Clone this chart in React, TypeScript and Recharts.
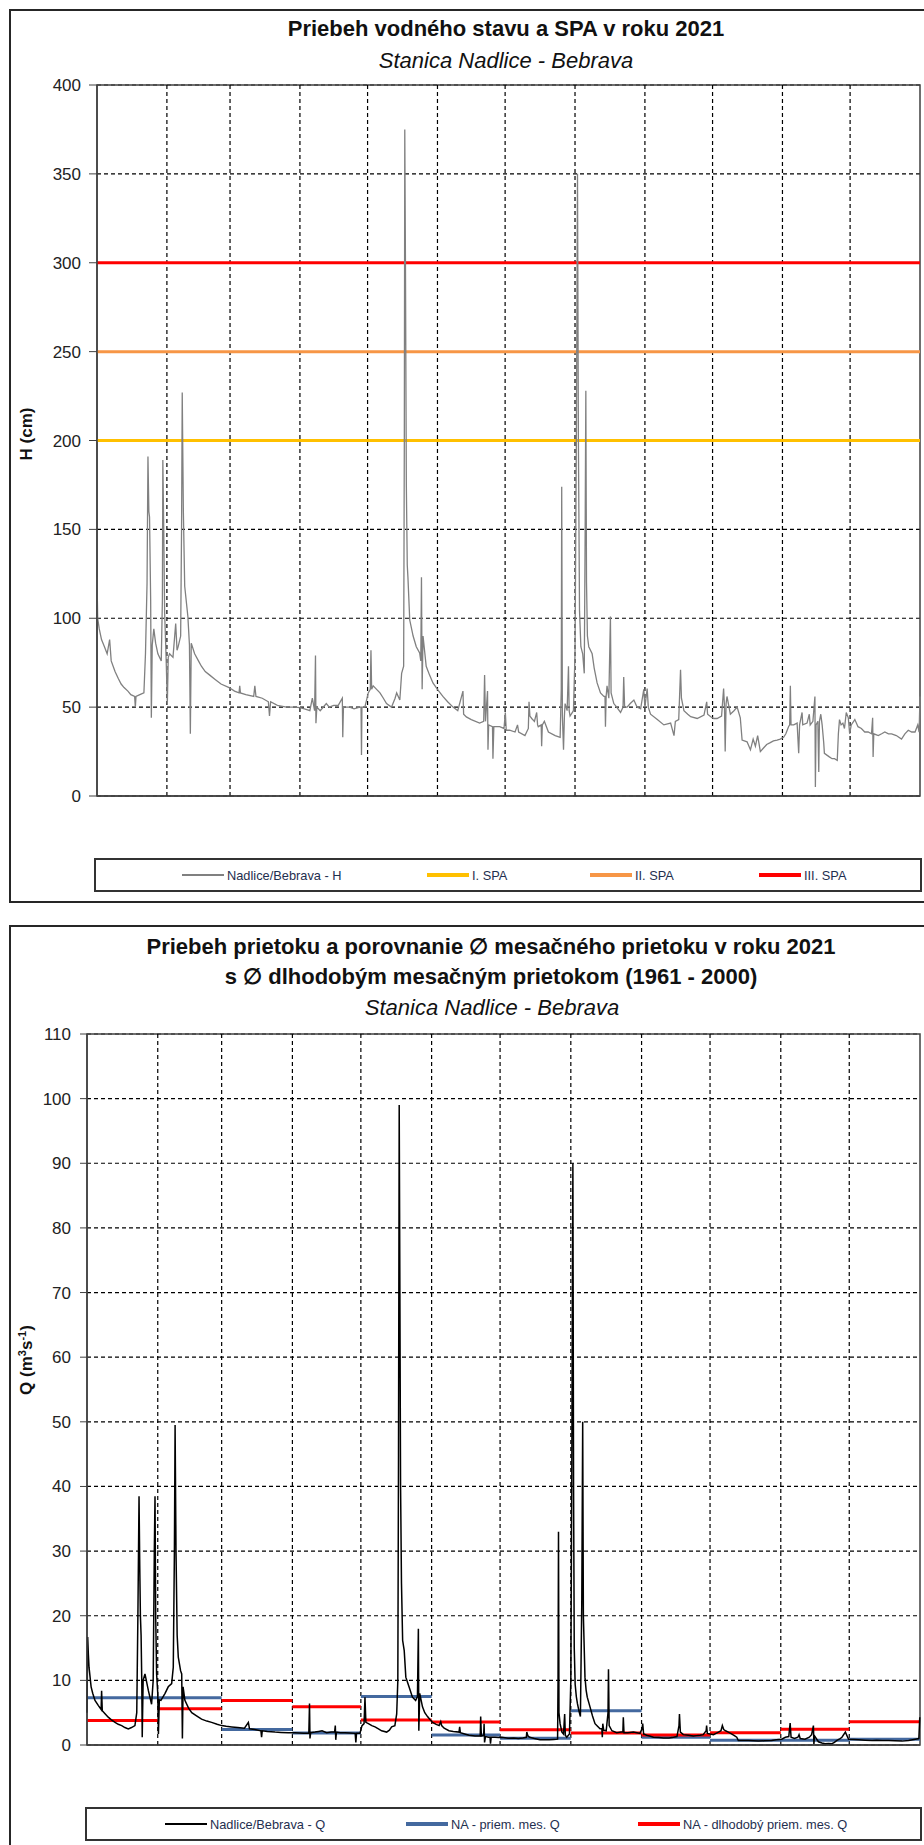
import React from 'react';
import { LineChart, Line, XAxis, YAxis, CartesianGrid, ReferenceArea, ReferenceLine } from 'recharts';

// day-of-year where each month starts (last entry = end of year)
const monthStarts = [0, 31, 59, 90, 120, 151, 181, 212, 243, 273, 304, 334, 365];
const monthBounds = monthStarts.slice(1, -1);

const hTicks = [0, 50, 100, 150, 200, 250, 300, 350, 400];
const qTicks = [0, 10, 20, 30, 40, 50, 60, 70, 80, 90, 100, 110];

// water level H (cm), [day, value]
const hJanMar = [
  [0, 123], [0.3, 100], [1, 94], [2, 88], [3.3, 84], [4.5, 80], [5.6, 88], [6.3, 76], [8, 70], [9.5, 66],
  [10.7, 63], [12, 61], [13.7, 59], [15, 57], [16.7, 56], [17, 50], [17.3, 56], [19, 57], [20.8, 58], [21.5, 80],
  [22.2, 120], [22.6, 191], [23, 160], [23.3, 157], [23.8, 110], [24.1, 44], [24.5, 85], [25.2, 94], [26, 86], [27, 80],
  [28.5, 76], [29, 110], [29.2, 189], [29.6, 150], [30, 103], [30.6, 80], [31.2, 52], [31.6, 78], [32.2, 80], [33.7, 78],
  [34.9, 97], [35.5, 82], [36, 84], [37.1, 90], [37.5, 150], [37.8, 227], [38.3, 160], [38.9, 118], [40.3, 101], [41, 85],
  [41.4, 35], [41.8, 86], [43.3, 80], [45, 76], [46.3, 73], [48, 70], [50, 68], [52.4, 65.6], [55, 63], [58.6, 61],
  [61, 59], [63, 58], [63.3, 62], [63.6, 58], [66, 57], [69.5, 56], [70, 62], [70.5, 56], [73.3, 55], [76, 53],
  [76.5, 45], [77, 53], [80, 51], [84, 50], [87.7, 50],
];
const hAprJun = [
  [90, 49.7], [92, 49], [94.4, 48], [95.5, 55], [96.5, 48], [96.9, 79], [97.1, 41], [97.5, 50], [99, 48], [101.7, 52],
  [103, 50], [105, 51], [107, 51], [108.8, 55], [109, 33], [109.3, 50], [112.1, 50], [114, 49], [116.5, 50], [117.1, 50],
  [117.3, 23], [117.5, 50], [118.8, 50], [120.3, 58], [121.2, 60], [121.5, 82], [121.8, 60], [122.5, 62], [124, 60], [125.5, 58],
  [127, 55], [128.4, 52], [130.6, 50], [132.2, 55], [132.9, 58], [134.3, 54], [135.1, 69], [136, 73], [136.3, 200], [136.5, 375],
  [136.8, 300], [137.2, 174], [137.6, 130], [137.9, 123], [138.7, 99], [140.2, 90], [141.6, 84], [143.1, 80.5], [143.6, 76], [143.9, 123],
  [144.2, 60], [144.6, 90], [146, 73], [147.5, 68], [149, 63.6], [151, 60], [153.4, 56], [155.5, 53], [157.9, 50], [160, 48],
  [162.3, 59], [162.6, 46], [163.8, 44.5], [166, 43], [169.7, 41], [171.5, 42], [171.9, 68], [172.3, 42], [173.2, 59], [173.4, 26],
  [173.7, 40], [175.4, 39], [175.6, 21], [176, 39], [178.6, 39], [180.5, 38], [181.1, 47], [181.5, 37],
];
const hJulSep = [
  [183, 37], [185.4, 36], [186.5, 40], [187, 36], [189.8, 34], [191.3, 38], [191.6, 53], [192, 45], [192.8, 43.6], [194, 42],
  [195, 47], [195.4, 40], [195.7, 39], [197, 40], [197.2, 28], [197.5, 40], [198.4, 42], [200.2, 36], [203.2, 34], [205.4, 33],
  [205.9, 60], [206.1, 174], [206.4, 45], [206.9, 26], [207.3, 45], [207.6, 52], [208.5, 48], [209.1, 73], [209.4, 48], [209.8, 45],
  [211.3, 48], [212, 80], [212.6, 200], [213.1, 350], [213.5, 200], [214, 104], [214.6, 84], [215.4, 80], [216.1, 69], [216.5, 150],
  [216.8, 228], [217.1, 120], [217.5, 90], [218.1, 84], [219.6, 80], [220.5, 72], [221.8, 63.6], [223.3, 58], [224.8, 56], [225.3, 56],
  [225.5, 39], [225.8, 56], [226.2, 62], [227, 55], [227.7, 101], [228, 58], [229.2, 52], [230.5, 50], [232.2, 47], [233.3, 50],
  [233.6, 67], [234, 50], [235.1, 50], [236.5, 52], [238.1, 54], [239.5, 50], [241.1, 49], [242.5, 60], [243, 50], [244, 60.5],
  [244.5, 50], [245.5, 46], [248.5, 43], [251.4, 40], [254.4, 41], [255.9, 34], [256.5, 42], [258, 43], [258.8, 71], [259.2, 55],
  [260.3, 48], [262, 46], [263.3, 44.6], [266.2, 43.6], [269.2, 45.5], [270.4, 53], [270.8, 46], [272.2, 44.6],
];
const hOctDec = [
  [273.5, 43.6], [275, 43.6], [277, 45], [277.9, 60.5], [278.3, 50], [278.6, 25], [279, 52], [279.4, 56], [280.9, 46], [282.5, 48],
  [283.9, 50], [285.3, 44], [286.1, 31.5], [288.3, 30.5], [289.8, 26], [291, 32], [292, 28], [293, 34], [294.2, 25], [295.6, 27],
  [297, 29], [298.6, 30], [300, 31], [301.6, 31.5], [303, 32], [304.5, 33], [305.5, 35], [306.7, 39], [307.2, 40], [307.5, 62],
  [307.8, 40], [309, 40], [310.5, 41], [311.2, 24], [311.6, 40], [312.7, 47], [313, 40], [314.9, 41], [315.9, 46], [316.3, 40],
  [317.5, 42], [318.4, 56], [318.6, 5], [318.9, 40], [319.7, 42], [320.1, 13.5], [320.4, 42], [321, 46], [321.6, 40], [322.3, 30],
  [322.6, 24], [324.8, 22], [326, 21], [327.1, 21], [328.3, 20], [328.8, 35], [329.3, 43], [330, 40], [330.8, 41], [331.5, 38],
  [332.3, 47], [333.2, 44], [333.8, 35], [334.5, 40], [336.1, 43], [337.5, 39], [339, 38], [340.5, 36], [342, 36], [343.5, 35],
  [344, 44], [344.2, 22], [344.5, 35], [346.5, 34], [348, 35], [349.4, 36], [351, 35], [352.4, 35], [354.5, 34], [356.8, 32],
  [358.3, 35], [359.8, 37], [361.3, 36], [362.8, 36], [364, 40], [364.6, 36], [365, 56],
];

// flood activity levels (SPA)
const spaNames = ['I. SPA', 'II. SPA', 'III. SPA'];
const spaLevels = [200, 250, 300];
const spaColors = ['#FFC000', '#F79646', '#FF0000'];

// discharge Q (m3/s), [day, value]
const qJanMar = [
  [0, 5], [0.3, 16.7], [0.6, 14], [0.9, 12], [1.8, 9], [2.5, 8], [3.5, 6.9], [5, 6.1], [6.2, 5.5], [6.4, 8.4],
  [6.7, 5.3], [8, 4.8], [9.3, 4.3], [10.7, 3.9], [12.3, 3.5], [13.7, 3.2], [15.2, 3.0], [16.6, 2.7], [18.1, 2.5], [19.5, 2.7],
  [21, 3.0], [21.8, 5], [22.3, 20], [22.8, 38.5], [23.1, 28], [23.4, 20], [23.7, 17], [24, 10], [24.2, 1.2], [24.6, 10],
  [25.4, 11], [26.9, 8.4], [28.3, 6.3], [29, 10], [29.5, 30], [29.8, 38.5], [30.1, 20], [30.5, 11], [31, 8], [31.3, 1.7],
  [31.7, 7], [32.4, 6.9], [34.2, 8], [35.6, 9], [37.1, 9.5], [37.8, 12], [38.3, 30], [38.6, 49.5], [39, 30], [39.5, 17],
  [40, 13.6], [41, 11.5], [41.5, 11], [41.8, 1], [42.1, 9], [42.9, 6.9], [44.5, 5.7], [45.9, 5], [48, 4.5], [50.2, 4.0],
  [52.5, 3.7], [54.6, 3.5], [57, 3.2], [59, 3.0], [61, 2.9], [63.4, 2.8], [66, 2.7], [69, 2.6], [70.7, 3.5], [71.2, 2.5],
  [73.5, 2.4], [76.2, 2.2], [76.5, 1.2], [76.8, 2.2], [79, 2.1], [82.4, 2.0], [85, 1.95], [88.2, 1.9],
];
const qAprJun = [
  [91.1, 1.9], [93, 1.85], [95, 1.8], [97.2, 1.8], [97.5, 6.4], [97.7, 1.0], [98, 1.9], [99.9, 2.0], [101.5, 2.1], [103, 2.2],
  [105, 1.9], [107, 2.0], [108.5, 2.0], [108.8, 3.0], [109, 0.8], [109.3, 2.0], [111, 1.9], [113, 1.9], [115, 1.85], [117.5, 1.8],
  [117.8, 0.4], [118.1, 1.8], [119.6, 1.8], [120.5, 3.0], [121.4, 3.3], [121.8, 7.4], [122.2, 3.5], [123.3, 3.3], [124.8, 3.0], [126.2, 2.8],
  [127.7, 2.5], [129.1, 2.2], [131.3, 2.0], [132.5, 2.3], [133.5, 2.8], [134.9, 3.0], [135.7, 4.8], [136.2, 10], [136.5, 45], [136.8, 99],
  [137.1, 70], [137.4, 40], [137.8, 25], [138.3, 16.2], [139, 14.6], [139.7, 10.5], [141.1, 9], [142.6, 7.4], [144, 6.9], [144.8, 7.5],
  [145.2, 18], [145.4, 2.2], [145.8, 8], [147, 5.9], [148, 5], [149.2, 4.4], [151.4, 3.5], [153, 3.2], [154.3, 3.0], [155, 3.6],
  [155.4, 3.0], [156.5, 2.6], [158.6, 2.2], [160.5, 2.1], [163, 2.0], [163.3, 2.8], [163.6, 1.9], [165.5, 1.7], [167.4, 1.5], [170, 1.4],
  [172.3, 1.4], [172.5, 4.4], [172.8, 1.4], [173.8, 1.5], [174, 3.3], [174.2, 0.4], [174.6, 1.3], [175.9, 1.2], [176.6, 1.2], [176.8, 0.2],
  [177.1, 1.2], [178.8, 1.2], [180.3, 1.15],
];
const qJulSep = [
  [181.7, 1.2], [184.6, 1.05], [187, 1.1], [189, 1.0], [191, 1.1], [192.5, 1.2], [192.7, 2.0], [193.2, 1.4], [194, 1.2], [196, 1.0],
  [198.5, 0.8], [200.5, 0.8], [202.5, 0.8], [204.5, 0.85], [206.2, 0.9], [206.4, 10], [206.6, 33], [206.8, 5], [207.3, 3.3], [208.1, 2.0],
  [208.8, 1.7], [209.3, 4.8], [209.6, 1.5], [210.2, 1.2], [211.4, 1.7], [212, 10], [212.4, 40], [212.9, 90], [213.2, 40], [213.5, 15],
  [213.9, 9.4], [214.4, 7.5], [214.9, 6.4], [215.6, 5.2], [216.2, 4.4], [216.8, 22], [217.2, 50], [217.5, 20], [218.2, 10.5], [218.7, 8.5],
  [219.2, 7.4], [220.4, 5.9], [221.5, 4.5], [222.6, 3.3], [223.7, 2.9], [224.8, 2.5], [225.6, 2.5], [225.8, 1.2], [226, 3.3], [226.4, 2.3],
  [227.5, 2.2], [228.3, 5], [228.5, 11.7], [228.8, 3], [230, 2.2], [232.1, 1.9], [234, 2.0], [234.8, 2.0], [235, 4.3], [235.3, 1.9],
  [237, 1.9], [239.4, 2.0], [241, 1.9], [242.3, 1.8], [243.2, 2.5], [243.5, 3.3], [243.9, 1.7], [245.2, 1.5], [246.5, 1.4], [248.2, 1.2],
  [250.5, 1.15], [252.6, 1.1], [255, 1.1], [257, 1.2], [258.5, 1.3], [259.4, 3], [259.6, 4.8], [260, 2], [261.3, 1.6], [263.5, 1.5],
  [265.7, 1.4], [267, 1.45], [268.6, 1.5], [270, 1.6], [271.3, 2.2], [271.5, 3.0], [271.8, 1.8], [273, 1.7],
];
const qOctDec = [
  [274.5, 1.6], [276.7, 2.0], [277.8, 2.2], [278.4, 3.0], [279, 2.4], [279.8, 2.2], [281, 2.0], [282, 1.8], [283.5, 1.5], [284.7, 1.2],
  [285.4, 0.7], [287.5, 0.7], [289.8, 0.7], [292, 0.65], [294.2, 0.6], [297, 0.65], [300, 0.7], [302, 0.8], [304.4, 0.9], [306, 1.2],
  [307.5, 1.3], [308.1, 3.4], [308.5, 1.2], [310, 1.0], [311.5, 1.2], [312, 1.6], [312.5, 1.0], [314.6, 0.9], [316.5, 1.2], [317.5, 1.6],
  [318.3, 3.0], [318.5, 0.1], [318.8, 1.4], [320.5, 0.5], [322, 0.3], [323.4, 0.2], [325, 0.25], [326.4, 0.2], [327.5, 0.4], [328.6, 0.7],
  [330, 1.0], [330.8, 1.2], [332.3, 2.0], [333.7, 0.9], [336, 0.85], [338.1, 0.8], [341, 0.75], [344, 0.7], [346, 0.75], [348.5, 0.7],
  [351.3, 0.7], [354, 0.65], [357.1, 0.6], [360, 0.7], [363, 0.9], [364.5, 1.0], [364.9, 4.3],
];

// monthly mean discharge, Jan..Dec
const qMonthly2021 = [7.3, 7.3, 2.4, 1.85, 7.5, 1.55, 1.05, 5.3, 1.2, 0.75, 0.75, 0.9];
const qMonthlyLongTerm = [3.8, 5.6, 6.9, 5.9, 3.85, 3.55, 2.35, 1.85, 1.55, 1.9, 2.45, 3.6];

const FONT = '"Liberation Sans", Arial, sans-serif';
const AXIS = '#404040';

const toRows = (pairs: number[][]) => pairs.map(([d, v]) => ({ d, v }));
const hData = toRows([...hJanMar, ...hAprJun, ...hJulSep, ...hOctDec]);
const qData = toRows([...qJanMar, ...qAprJun, ...qJulSep, ...qOctDec]);
const flatLine = (v: number) => [{ d: 0, v }, { d: 365, v }];
const monthlySteps = (vals: number[]) =>
  vals.flatMap((v, i) => [
    { d: monthStarts[i], v },
    { d: monthStarts[i + 1], v },
    { d: monthStarts[i + 1], v: null },
  ]);

function CenterText({ x, y, size, bold, italic, children }: any) {
  return (
    <div
      style={{
        position: 'absolute', left: x, top: y, transform: 'translate(-50%, -50%)',
        fontSize: size, fontWeight: bold ? 700 : 400, fontStyle: italic ? 'italic' : 'normal',
        whiteSpace: 'nowrap', lineHeight: 1, color: '#111',
      }}
    >
      {children}
    </div>
  );
}

function AxisTitle({ x, y, children }: any) {
  return (
    <div
      style={{
        position: 'absolute', left: x, top: y, transform: 'translate(-50%, -50%) rotate(-90deg)',
        fontSize: 17, fontWeight: 700, whiteSpace: 'nowrap', lineHeight: 1, color: '#111',
      }}
    >
      {children}
    </div>
  );
}

function LegendBox({ left, top, width, items }: any) {
  return (
    <div
      style={{
        position: 'absolute', left, top, width, height: 34, boxSizing: 'border-box',
        border: '2px solid #333', background: '#fff',
      }}
    >
      {items.map((it: any) => (
        <div
          key={it.name}
          style={{ position: 'absolute', left: it.x - left, top: 0, height: 30, display: 'flex', alignItems: 'center' }}
        >
          <div style={{ width: 42, height: it.w, background: it.color }} />
          <span style={{ marginLeft: 3, fontSize: 12.8, color: '#1f2f4f' }}>{it.name}</span>
        </div>
      ))}
    </div>
  );
}

const frame = {
  position: 'absolute' as const, left: 9, width: 917, boxSizing: 'border-box' as const,
  border: '2px solid #262626', background: '#fff',
};

const yTick = { fill: '#222', fontSize: 17, fontFamily: FONT };
const gridDash = '4 3';

export default function App() {
  return (
    <div style={{ position: 'absolute', left: 0, top: 0, width: 924, height: 1845, overflow: 'hidden', fontFamily: FONT, background: '#fff' }}>
      {/* water level chart */}
      <div style={{ ...frame, top: 9, height: 894 }} />
      <CenterText x={506} y={29} size={22} bold>Priebeh vodného stavu a SPA v roku 2021</CenterText>
      <CenterText x={506} y={61} size={22} italic>Stanica Nadlice - Bebrava</CenterText>
      <AxisTitle x={26} y={434}>H (cm)</AxisTitle>
      <div style={{ position: 'absolute', left: 9, top: 75 }}>
        <LineChart width={915} height={733} margin={{ top: 10, right: 4, bottom: 10, left: 28 }}>
          <CartesianGrid stroke="#000" strokeWidth={1.2} strokeDasharray={gridDash} vertical={false} />
          <XAxis
            type="number" dataKey="d" domain={[0, 365]} ticks={monthBounds} tick={false} tickLine={false}
            height={2} axisLine={{ stroke: AXIS, strokeWidth: 1.5 }}
          />
          <YAxis
            type="number" domain={[0, 400]} ticks={hTicks} interval={0} width={60} tickSize={8} tickMargin={8}
            tick={yTick} tickLine={{ stroke: AXIS }} axisLine={{ stroke: AXIS, strokeWidth: 1.5 }}
          />
          {monthBounds.map((b) => (
            <ReferenceLine key={b} x={b} stroke="#000" strokeWidth={1.2} strokeDasharray={gridDash} />
          ))}
          <ReferenceArea x1={0} x2={365} y1={0} y2={400} fill="none" stroke={AXIS} strokeWidth={1.5} />
          {spaLevels.map((lv, i) => (
            <Line
              key={spaNames[i]} data={flatLine(lv)} dataKey="v" name={spaNames[i]} stroke={spaColors[i]}
              strokeWidth={3} dot={false} isAnimationActive={false}
            />
          ))}
          <Line
            data={hData} dataKey="v" name="Nadlice/Bebrava - H" type="linear" stroke="#808080"
            strokeWidth={1.3} dot={false} isAnimationActive={false}
          />
        </LineChart>
      </div>
      <LegendBox
        left={94} top={858} width={828}
        items={[
          { name: 'Nadlice/Bebrava - H', color: '#808080', w: 1.5, x: 180 },
          { name: spaNames[0], color: spaColors[0], w: 4, x: 425 },
          { name: spaNames[1], color: spaColors[1], w: 4, x: 588 },
          { name: spaNames[2], color: spaColors[2], w: 4, x: 757 },
        ]}
      />

      {/* discharge chart */}
      <div style={{ ...frame, top: 925, height: 930 }} />
      <CenterText x={491} y={947} size={22} bold>Priebeh prietoku a porovnanie ∅ mesačného prietoku v roku 2021</CenterText>
      <CenterText x={491} y={977} size={22} bold>s ∅ dlhodobým mesačným prietokom (1961 - 2000)</CenterText>
      <CenterText x={492} y={1008} size={22} italic>Stanica Nadlice - Bebrava</CenterText>
      <AxisTitle x={26} y={1360}>
        Q (m<sup style={{ fontSize: 11 }}>3</sup>s<sup style={{ fontSize: 11 }}>-1</sup>)
      </AxisTitle>
      <div style={{ position: 'absolute', left: 9, top: 1024 }}>
        <LineChart width={915} height={733} margin={{ top: 10, right: 4, bottom: 10, left: 18 }}>
          <CartesianGrid stroke="#000" strokeWidth={1.2} strokeDasharray={gridDash} vertical={false} />
          <XAxis
            type="number" dataKey="d" domain={[0, 365]} ticks={monthBounds} tick={false} tickLine={false}
            height={2} axisLine={{ stroke: AXIS, strokeWidth: 1.5 }}
          />
          <YAxis
            type="number" domain={[0, 110]} ticks={qTicks} interval={0} width={60} tickSize={7} tickMargin={9}
            tick={yTick} tickLine={{ stroke: AXIS }} axisLine={{ stroke: AXIS, strokeWidth: 1.5 }}
          />
          {monthBounds.map((b) => (
            <ReferenceLine key={b} x={b} stroke="#000" strokeWidth={1.2} strokeDasharray={gridDash} />
          ))}
          <ReferenceArea x1={0} x2={365} y1={0} y2={110} fill="none" stroke={AXIS} strokeWidth={1.5} />
          <Line
            data={monthlySteps(qMonthly2021)} dataKey="v" name="NA - priem. mes. Q" stroke="#44699f"
            strokeWidth={3} dot={false} connectNulls={false} isAnimationActive={false}
          />
          <Line
            data={monthlySteps(qMonthlyLongTerm)} dataKey="v" name="NA - dlhodobý priem. mes. Q" stroke="#FF0000"
            strokeWidth={3} dot={false} connectNulls={false} isAnimationActive={false}
          />
          <Line
            data={qData} dataKey="v" name="Nadlice/Bebrava - Q" type="linear" stroke="#000"
            strokeWidth={1.5} dot={false} isAnimationActive={false}
          />
        </LineChart>
      </div>
      <LegendBox
        left={85} top={1807} width={837}
        items={[
          { name: 'Nadlice/Bebrava - Q', color: '#000', w: 1.5, x: 163 },
          { name: 'NA - priem. mes. Q', color: '#44699f', w: 4, x: 404 },
          { name: 'NA - dlhodobý priem. mes. Q', color: '#FF0000', w: 4, x: 636 },
        ]}
      />
    </div>
  );
}
